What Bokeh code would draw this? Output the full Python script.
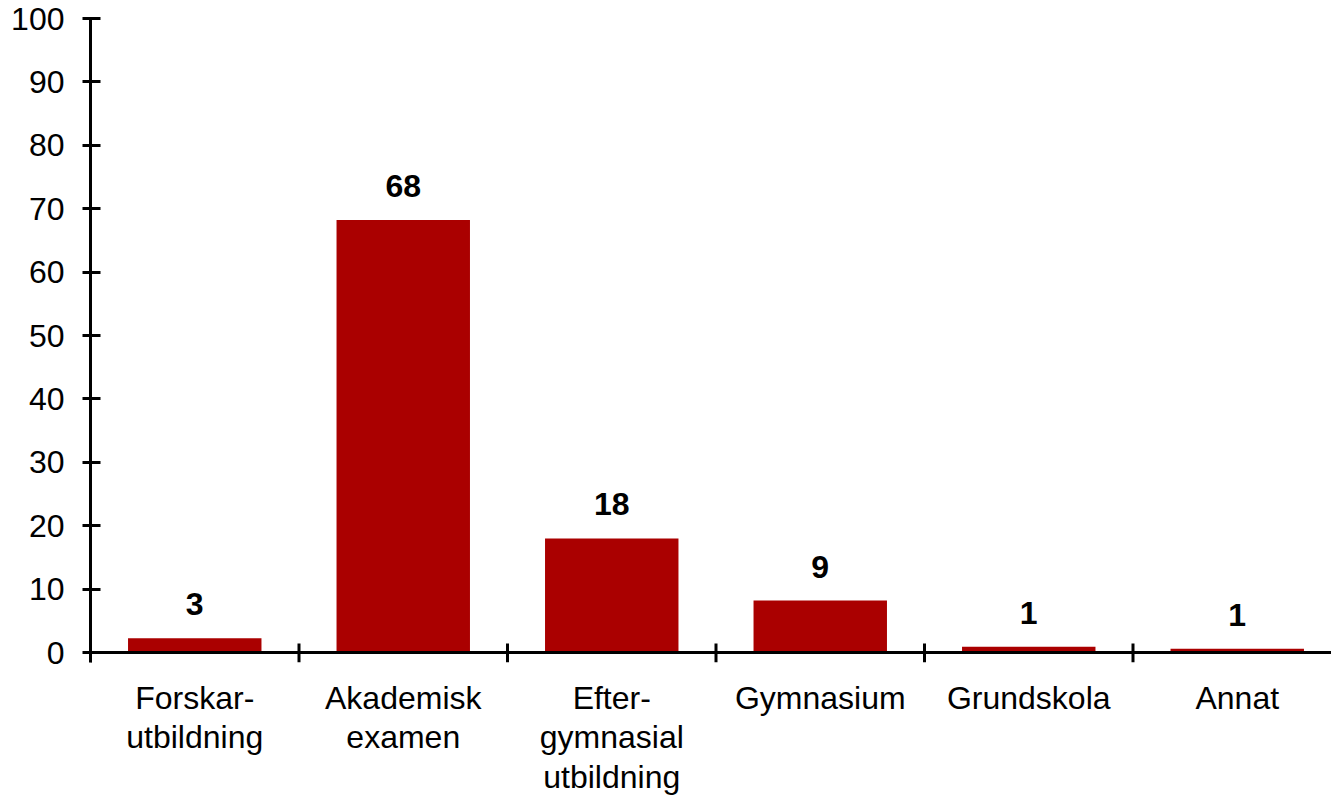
from bokeh.plotting import figure
from bokeh.models import Range1d, LinearAxis, FixedTicker, ColumnDataSource, Span
from bokeh.embed import file_html
from bokeh.resources import INLINE
from bokeh.core.properties import value

categories = ["Forskar-\nutbildning", "Akademisk\nexamen", "Efter-\ngymnasial\nutbildning",
              "Gymnasium", "Grundskola", "Annat"]
values = [2.25, 68.2, 18.0, 8.2, 0.9, 0.6]
labels = ["3", "68", "18", "9", "1", "1"]
y_ticks = [0, 10, 20, 30, 40, 50, 60, 70, 80, 90, 100]

FONT = "Liberation Sans"
FS = "32px"

n = len(categories)
xc = [i + 0.5 for i in range(n)]
src = ColumnDataSource(dict(x=xc, top=values, lab=labels))

# frame: 100 at 18px, 0 at 652px, frame bottom 10px below zero
px_per_unit = (652 - 18) / 100.0
y_min = -10 / px_per_unit
px_per_cat = 208.5
W, H = 1331, 797
x_max = (W - 90) / px_per_cat

p = figure(width=W, height=H, output_backend="svg", toolbar_location=None,
           x_range=Range1d(0, x_max), y_range=Range1d(y_min, 100),
           x_axis_type=None, y_axis_type=None,
           min_border_left=90, min_border_top=18, min_border_right=0, min_border_bottom=10)
p.outline_line_color = None
p.xgrid.visible = False
p.ygrid.visible = False
p.background_fill_color = "white"
p.border_fill_color = "white"

p.vbar(x="x", top="top", width=0.64, source=src, fill_color="#AA0000", line_color=None)
p.text(x="x", y="top", text="lab", source=src, text_align="center", text_baseline="middle",
       y_offset=-34, text_font=value(FONT), text_font_size=FS, text_font_style="bold",
       text_color="black")

# x axis line at zero and boundary ticks between categories
p.add_layout(Span(location=0, dimension="width", line_color="black", line_width=3))
bounds = list(range(n + 1))
tick_up = 9 / px_per_unit
p.segment(x0=bounds, x1=bounds, y0=[y_min] * len(bounds), y1=[tick_up] * len(bounds),
          line_color="black", line_width=3)

# y axis
ya = LinearAxis(ticker=FixedTicker(ticks=y_ticks))
ya.axis_line_width = 3
ya.major_tick_line_width = 3
ya.major_tick_in = 10
ya.major_tick_out = 8
ya.minor_tick_line_color = None
ya.major_label_standoff = 18
ya.major_label_text_font = FONT
ya.major_label_text_font_size = FS
ya.major_label_text_color = "black"
p.add_layout(ya, "left")

# category label axis
xl = LinearAxis(ticker=FixedTicker(ticks=xc))
xl.axis_line_color = None
xl.major_tick_line_color = None
xl.minor_tick_line_color = None
xl.major_tick_in = 0
xl.major_tick_out = 0
xl.major_label_overrides = {x: c for x, c in zip(xc, categories)}
xl.major_label_text_font = FONT
xl.major_label_text_font_size = FS
xl.major_label_text_color = "black"
xl.major_label_text_line_height = 1.1
xl.major_label_standoff = 17
p.add_layout(xl, "below")

open("out.html", "w").write(file_html(p, INLINE))
